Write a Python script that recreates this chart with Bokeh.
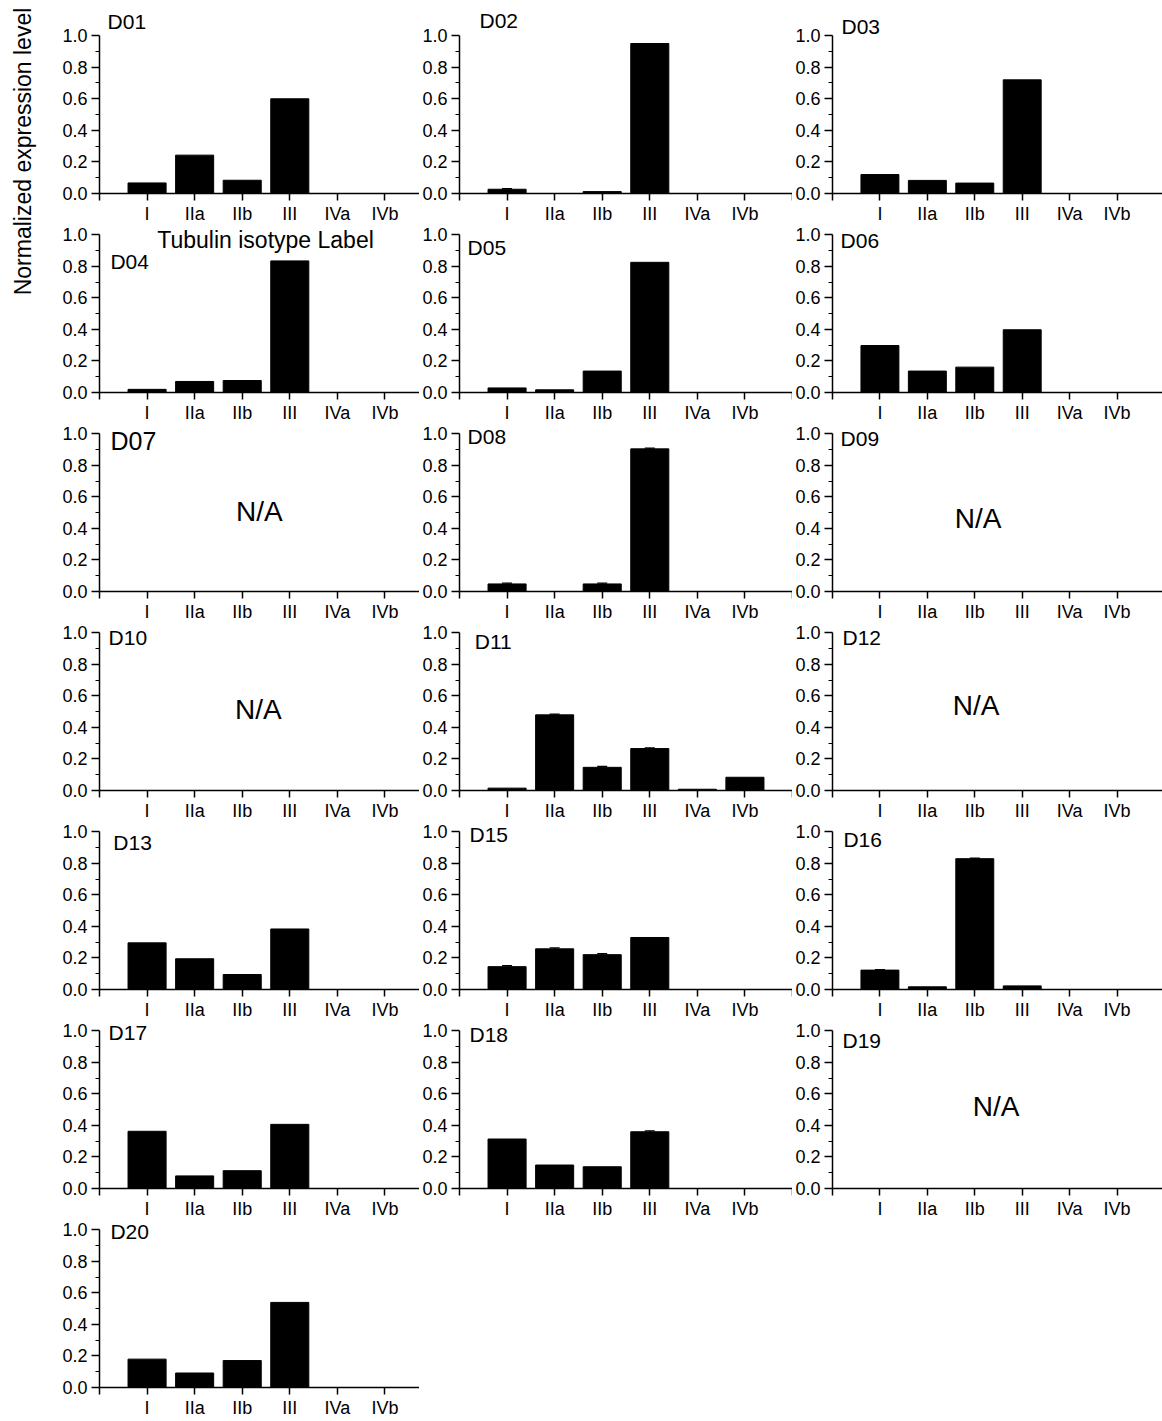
import math
from bokeh.plotting import figure
from bokeh.models import (Range1d, FixedTicker, Label, Whisker, ColumnDataSource,
                          TeeHead, PrintfTickFormatter)
from bokeh.layouts import gridplot, row
from bokeh.embed import file_html
from bokeh.resources import INLINE

# ---------------- data ----------------
categories = ["I", "IIa", "IIb", "III", "IVa", "IVb"]

d01 = [0.067, 0.243, 0.084, 0.600, 0.0, 0.0]
d02 = [0.027, 0.0, 0.012, 0.950, 0.0, 0.0]
d03 = [0.120, 0.083, 0.066, 0.720, 0.0, 0.0]
d04 = [0.020, 0.070, 0.076, 0.835, 0.0, 0.0]
d05 = [0.029, 0.017, 0.136, 0.826, 0.0, 0.0]
d06 = [0.298, 0.136, 0.161, 0.398, 0.0, 0.0]
d07 = None
d08 = [0.048, 0.0, 0.048, 0.905, 0.0, 0.0]
d09 = None
d10 = None
d11 = [0.015, 0.480, 0.147, 0.266, 0.008, 0.084]
d12 = None
d13 = [0.296, 0.195, 0.095, 0.384, 0.0, 0.0]
d15 = [0.145, 0.258, 0.221, 0.330, 0.0, 0.0]
d16 = [0.123, 0.017, 0.830, 0.023, 0.0, 0.0]
d17 = [0.363, 0.080, 0.113, 0.407, 0.0, 0.0]
d18 = [0.314, 0.149, 0.138, 0.360, 0.0, 0.0]
d19 = None
d20 = [0.180, 0.092, 0.171, 0.540, 0.0, 0.0]

e02 = [0.004, 0.0, 0.0, 0.0, 0.0, 0.0]
e08 = [0.005, 0.0, 0.005, 0.005, 0.0, 0.0]
e11 = [0.0, 0.005, 0.006, 0.005, 0.0, 0.0]
e15 = [0.006, 0.006, 0.006, 0.0, 0.0, 0.0]
e16 = [0.004, 0.0, 0.004, 0.0, 0.0, 0.0]
e18 = [0.0, 0.0, 0.0, 0.006, 0.0, 0.0]

values = {"D01": d01, "D02": d02, "D03": d03, "D04": d04, "D05": d05, "D06": d06,
          "D07": d07, "D08": d08, "D09": d09, "D10": d10, "D11": d11, "D12": d12,
          "D13": d13, "D15": d15, "D16": d16, "D17": d17, "D18": d18, "D19": d19,
          "D20": d20}
errors = {"D02": e02, "D08": e08, "D11": e11, "D15": e15, "D16": e16, "D18": e18}

y_ticks = [0.0, 0.2, 0.4, 0.6, 0.8, 1.0]
y_minor = [0.1, 0.3, 0.5, 0.7, 0.9]
y_label = "Normalized expression level"
x_label = "Tubulin isotype Label"
na_text = "N/A"

panel_grid = [["D01", "D02", "D03"],
              ["D04", "D05", "D06"],
              ["D07", "D08", "D09"],
              ["D10", "D11", "D12"],
              ["D13", "D15", "D16"],
              ["D17", "D18", "D19"],
              ["D20", None, None]]

# ---------------- layout / style ----------------
FONT = "Liberation Sans"
PX = 333 / 7.0          # px per category unit
PY = 159.5              # px per 1.0
COL_FRAME_W = [320, 333, 331]
COL_BORDER_L = [55, 40, 39]
LEFT_W = 44
ROW0_FRAME = 195
ROW_FRAME = 168
BORDER_B = 31
TICK_FS = "18px"

title_pos = {"D01": (0.17, 1.088), "D02": (0.42, 1.097), "D03": (0.19, 1.056),
             "D04": (0.23, 0.831), "D05": (0.17, 0.92), "D06": (0.17, 0.965),
             "D07": (0.23, 0.955), "D08": (0.17, 0.985), "D09": (0.17, 0.972),
             "D10": (0.19, 0.972), "D11": (0.32, 0.947), "D12": (0.21, 0.972),
             "D13": (0.29, 0.934), "D15": (0.21, 0.984), "D16": (0.23, 0.953),
             "D17": (0.19, 0.99), "D18": (0.21, 0.978), "D19": (0.21, 0.94),
             "D20": (0.23, 0.99)}
na_pos = {"D07": (3.36, 0.508), "D09": (3.07, 0.464), "D10": (3.34, 0.514),
          "D12": (3.03, 0.539), "D19": (3.45, 0.52)}


def make_panel(name, r, c):
    fh = ROW0_FRAME if r == 0 else ROW_FRAME
    p = figure(width=COL_BORDER_L[c] + COL_FRAME_W[c], height=fh + BORDER_B,
               x_range=Range1d(0, COL_FRAME_W[c] / PX), y_range=Range1d(0, fh / PY),
               output_backend="svg", toolbar_location=None, tools="",
               min_border_left=COL_BORDER_L[c], min_border_right=0,
               min_border_top=0, min_border_bottom=BORDER_B)
    p.outline_line_color = None
    p.xgrid.grid_line_color = None
    p.ygrid.grid_line_color = None
    p.background_fill_color = "white"
    p.border_fill_color = "white"

    ya = p.yaxis[0]
    ya.ticker = FixedTicker(ticks=y_ticks, minor_ticks=y_minor)
    ya.formatter = PrintfTickFormatter(format="%.1f")
    ya.bounds = (0, 1)
    ya.major_tick_out = 8
    ya.major_tick_in = 0
    ya.minor_tick_out = 4
    ya.minor_tick_in = 0
    ya.axis_line_width = 1.5
    ya.major_tick_line_width = 1.5
    ya.minor_tick_line_width = 1.2
    ya.axis_line_color = "black"
    ya.major_tick_line_color = "black"
    ya.minor_tick_line_color = "black"
    ya.major_label_text_font = FONT
    ya.major_label_text_font_size = TICK_FS
    ya.major_label_text_color = "black"
    ya.major_label_standoff = 4

    xa = p.xaxis[0]
    xticks = list(range(0, len(categories) + 2))
    xa.ticker = FixedTicker(ticks=xticks, minor_ticks=[])
    overrides = {t: "" for t in xticks}
    for i, cat in enumerate(categories):
        overrides[i + 1] = cat
    xa.major_label_overrides = overrides
    xa.major_tick_out = 7
    xa.major_tick_in = 0
    xa.minor_tick_out = 0
    xa.minor_tick_in = 0
    xa.axis_line_width = 1.5
    xa.major_tick_line_width = 1.5
    xa.axis_line_color = "black"
    xa.major_tick_line_color = "black"
    xa.major_label_text_font = FONT
    xa.major_label_text_font_size = TICK_FS
    xa.major_label_text_color = "black"
    xa.major_label_standoff = 3

    vals = values[name]
    if vals is not None:
        xs = [i + 1 for i in range(len(categories))]
        src = ColumnDataSource(dict(x=xs, top=vals))
        p.vbar(x="x", top="top", bottom=0, width=0.8, source=src,
               fill_color="black", line_color="black", line_width=1)
        errs = errors.get(name)
        if errs is not None:
            wx, wu, wl = [], [], []
            for xv, v, e in zip(xs, vals, errs):
                if e > 0:
                    wx.append(xv); wu.append(v + e); wl.append(v - e)
            wsrc = ColumnDataSource(dict(x=wx, upper=wu, lower=wl))
            p.add_layout(Whisker(source=wsrc, base="x", upper="upper", lower="lower",
                                 line_color="black", line_width=1.2,
                                 upper_head=TeeHead(size=10, line_color="black", line_width=1.2),
                                 lower_head=None))
    else:
        nx, ny = na_pos[name]
        p.add_layout(Label(x=nx, y=ny, text=na_text, text_font=FONT,
                           text_font_size="28px", text_align="center",
                           text_baseline="middle", text_color="black"))

    tx, ty = title_pos[name]
    p.add_layout(Label(x=tx, y=ty, text=name, text_font=FONT,
                       text_font_size="25px" if name == "D07" else "21px",
                       text_align="left", text_baseline="middle", text_color="black"))
    if name == "D04":
        p.add_layout(Label(x=3.49, y=0.966, text=x_label, text_font=FONT,
                           text_font_size="23px", text_align="center",
                           text_baseline="middle", text_color="black"))
    return p


children = []
for r, rnames in enumerate(panel_grid):
    rowfigs = []
    for c, nm in enumerate(rnames):
        rowfigs.append(make_panel(nm, r, c) if nm is not None else None)
    children.append(rowfigs)

grid = gridplot(children, toolbar_location=None)

TOTAL_H = ROW0_FRAME + BORDER_B + 6 * (ROW_FRAME + BORDER_B)
left = figure(width=LEFT_W, height=TOTAL_H, x_range=Range1d(0, LEFT_W), y_range=Range1d(0, TOTAL_H),
              output_backend="svg", toolbar_location=None, tools="",
              x_axis_type=None, y_axis_type=None, min_border=0)
left.outline_line_color = None
left.add_layout(Label(x=22, y=TOTAL_H - 151, text=y_label, angle=math.pi / 2,
                      text_font=FONT, text_font_size="23px", text_align="center",
                      text_baseline="middle", text_color="black"))

layout = row(left, grid)
open("out.html", "w").write(file_html(layout, INLINE))
